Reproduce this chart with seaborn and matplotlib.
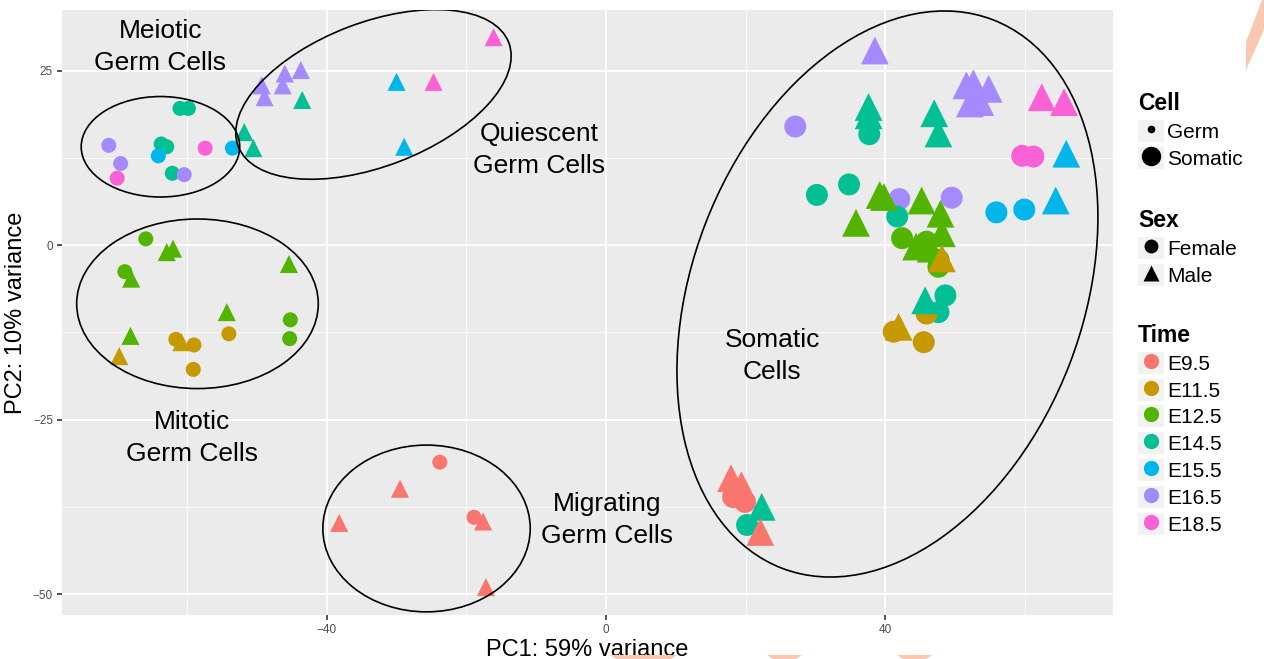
import matplotlib
matplotlib.use('Agg')
import matplotlib.pyplot as plt
import seaborn as sns
import pandas as pd
from matplotlib.patches import Ellipse, Polygon, Patch
from matplotlib.lines import Line2D

# time points and ggplot hue colours
times = ['E9.5', 'E11.5', 'E12.5', 'E14.5', 'E15.5', 'E16.5', 'E18.5']
colors = ['#F8766D', '#C49A00', '#53B400', '#00C094', '#00B6EB', '#A58AFF', '#FB61D7']

# meiotic germ cells
meio_pc1 = [-71.2, -69.5, -70.0, -61.0, -59.8, -63.7, -62.9, -64.1, -62.1, -60.4, -57.4, -53.5, -51.8, -50.5]
meio_pc2 = [14.3, 11.7, 9.6, 19.6, 19.6, 14.5, 14.1, 12.8, 10.3, 10.1, 13.9, 13.9, 16.2, 13.9]
meio_time = ['E16.5', 'E16.5', 'E18.5', 'E14.5', 'E14.5', 'E14.5', 'E14.5', 'E15.5', 'E14.5', 'E16.5',
             'E18.5', 'E15.5', 'E14.5', 'E14.5']
meio_sex = ['Female'] * 12 + ['Male'] * 2

# quiescent germ cells
quie_pc1 = [-49.3, -48.9, -46.0, -46.3, -43.7, -43.5, -30.0, -24.7, -16.1, -28.9]
quie_pc2 = [22.9, 21.2, 24.6, 22.9, 25.1, 20.8, 23.4, 23.4, 29.8, 14.1]
quie_time = ['E16.5'] * 5 + ['E14.5', 'E15.5', 'E18.5', 'E18.5', 'E15.5']
quie_sex = ['Male'] * 10

# mitotic germ cells
mito_pc1 = [-65.9, -62.9, -62.0, -68.9, -68.0, -45.4, -54.3, -45.2, -45.3, -68.1, -69.7, -61.6, -60.8, -59.0, -54.0, -59.1]
mito_pc2 = [0.9, -1.0, -0.5, -3.8, -4.8, -2.7, -9.6, -10.7, -13.4, -13.0, -15.9, -13.5, -13.9, -14.3, -12.7, -17.8]
mito_time = ['E12.5'] * 10 + ['E11.5'] * 6
mito_sex = ['Female', 'Male', 'Male', 'Female', 'Male', 'Male', 'Male', 'Female', 'Female', 'Male',
            'Male', 'Female', 'Male', 'Female', 'Female', 'Female']

# migrating germ cells
migr_pc1 = [-23.8, -29.5, -38.2, -18.9, -17.6, -17.2]
migr_pc2 = [-31.1, -34.9, -39.8, -39.0, -39.6, -49.0]
migr_time = ['E9.5'] * 6
migr_sex = ['Female', 'Male', 'Male', 'Female', 'Male', 'Male']

# somatic cells
soma_pc1 = [38.5, 27.1, 37.6, 37.6, 37.7, 47.0, 47.6, 51.6, 52.6, 54.8, 53.6, 52.1, 62.4, 65.6,
            59.6, 61.2, 65.9, 64.4, 55.9, 59.9, 30.2, 34.8, 42.0, 49.5, 39.2, 39.8, 45.2, 35.8,
            41.7, 47.9, 48.1, 42.4, 45.9, 44.4, 46.5, 47.6, 47.6, 48.1, 45.7, 48.6, 47.6, 45.9,
            41.2, 41.9, 45.5, 17.9, 19.4, 18.2, 19.9, 22.3, 20.2, 22.1]
soma_pc2 = [27.9, 17.0, 19.8, 18.6, 15.9, 18.9, 16.0, 22.9, 23.2, 22.4, 20.5, 20.3, 21.2, 20.5,
            12.8, 12.7, 13.1, 6.4, 4.7, 5.1, 7.2, 8.7, 6.6, 6.8, 7.2, 6.9, 6.4, 3.2,
            4.1, 4.5, 1.7, 1.0, 0.5, -0.2, -0.5, -2.1, -3.1, -1.9, -7.9, -7.2, -9.6, -9.8,
            -12.4, -11.7, -13.9, -33.4, -34.4, -36.1, -36.8, -37.5, -40.1, -41.1]
soma_time = ['E16.5', 'E16.5', 'E14.5', 'E14.5', 'E14.5', 'E14.5', 'E14.5', 'E16.5', 'E16.5', 'E16.5',
             'E16.5', 'E16.5', 'E18.5', 'E18.5', 'E18.5', 'E18.5', 'E15.5', 'E15.5', 'E15.5', 'E15.5',
             'E14.5', 'E14.5', 'E16.5', 'E16.5', 'E12.5', 'E12.5', 'E12.5', 'E12.5', 'E14.5', 'E12.5',
             'E12.5', 'E12.5', 'E12.5', 'E12.5', 'E12.5', 'E12.5', 'E12.5', 'E11.5', 'E14.5', 'E14.5',
             'E14.5', 'E11.5', 'E11.5', 'E11.5', 'E11.5', 'E9.5', 'E9.5', 'E9.5', 'E9.5', 'E14.5',
             'E14.5', 'E9.5']
soma_sex = ['Male', 'Female', 'Male', 'Male', 'Female', 'Male', 'Male', 'Male', 'Male', 'Male',
            'Male', 'Male', 'Male', 'Male', 'Female', 'Female', 'Male', 'Male', 'Female', 'Female',
            'Female', 'Female', 'Female', 'Female', 'Male', 'Male', 'Male', 'Male', 'Female', 'Male',
            'Male', 'Female', 'Female', 'Male', 'Male', 'Female', 'Female', 'Male', 'Male', 'Female',
            'Female', 'Female', 'Female', 'Male', 'Female', 'Male', 'Male', 'Female', 'Female', 'Male',
            'Female', 'Male']

# cluster outlines: centre x, centre y, width, height, angle
ellipses = [(-63.8, 14.1, 22.7, 14.4, 0), (-33.3, 21.6, 41.5, 20.6, 21),
            (-58.5, -8.4, 34.6, 24.3, 0), (-25.7, -40.6, 29.7, 23.9, 0),
            (40.3, -7.0, 84.2, 55.9, 69)]
labels = [(-63.8, 28.4, 'Meiotic\nGerm Cells'), (-9.6, 13.6, 'Quiescent\nGerm Cells'),
          (-59.3, -27.7, 'Mitotic\nGerm Cells'), (0.1, -39.4, 'Migrating\nGerm Cells'),
          (23.8, -15.9, 'Somatic\nCells')]

rows = []
for pc1, pc2, tm, sx, cell in [(meio_pc1, meio_pc2, meio_time, meio_sex, 'Germ'),
                                (quie_pc1, quie_pc2, quie_time, quie_sex, 'Germ'),
                                (mito_pc1, mito_pc2, mito_time, mito_sex, 'Germ'),
                                (migr_pc1, migr_pc2, migr_time, migr_sex, 'Germ'),
                                (soma_pc1, soma_pc2, soma_time, soma_sex, 'Somatic')]:
    for a, b, t, s in zip(pc1, pc2, tm, sx):
        rows.append({'PC1': a, 'PC2': b, 'Time': t, 'Sex': s, 'Cell': cell})
df = pd.DataFrame(rows)

sns.set_theme(style='darkgrid', rc={'axes.facecolor': '#EBEBEB', 'grid.color': 'white',
                                     'text.color': 'black', 'axes.labelcolor': 'black'})
plt.rcParams['font.family'] = ['Liberation Sans', 'DejaVu Sans']

fig = plt.figure(figsize=(12.64, 6.59), dpi=100)
ax = fig.add_axes([62 / 1264, 1 - 615 / 659, (1113 - 62) / 1264, (615 - 10) / 659])
palette = dict(zip(times, colors))

sns.scatterplot(data=df[df.Sex == 'Female'], x='PC1', y='PC2', hue='Time', palette=palette,
                size='Cell', sizes={'Germ': 117, 'Somatic': 250}, marker='o', linewidth=0,
                legend=False, ax=ax, zorder=3)
sns.scatterplot(data=df[df.Sex == 'Male'], x='PC1', y='PC2', hue='Time', palette=palette,
                size='Cell', sizes={'Germ': 169, 'Somatic': 400}, marker='^', linewidth=0,
                legend=False, ax=ax, zorder=3)

for cx, cy, w, h, ang in ellipses:
    ax.add_patch(Ellipse((cx, cy), w, h, angle=ang, fill=False, edgecolor='black', lw=1.2, zorder=4))
for x, y, t in labels:
    ax.text(x, y, t, ha='center', va='center', fontsize=19, linespacing=1.42, zorder=5)

ax.set_xlim(-77.9, 72.6)
ax.set_ylim(-53.0, 33.7)
ax.set_xticks([-40, 0, 40])
ax.set_xticks([-60, -20, 20, 60], minor=True)
ax.set_yticks([-50, -25, 0, 25])
ax.set_yticks([-37.5, -12.5, 12.5], minor=True)
ax.grid(which='major', color='white', lw=1.3)
ax.grid(which='minor', color='white', lw=0.6)
for sp in ax.spines.values():
    sp.set_visible(False)
ax.tick_params(which='major', length=3.5, width=1.2, color='#333333', labelsize=8.5,
               labelcolor='#4D4D4D', pad=3, bottom=True, left=True)
ax.tick_params(which='minor', length=0)
ax.set_xlabel('PC1: 59% variance', fontsize=17, labelpad=2)
ax.set_ylabel('PC2: 10% variance', fontsize=17, labelpad=4)

# legends
bg = Patch(facecolor='#F2F2F2', edgecolor='none')
def mk(marker, ms, color='black'):
    return (bg, Line2D([], [], ls='none', marker=marker, ms=ms, color=color, mec='none'))

legend_specs = [
    ('Cell', [mk('o', 5.5), mk('o', 14)], ['Germ', 'Somatic'], 92),
    ('Sex', [mk('o', 10), mk('^', 11.5)], ['Female', 'Male'], 209),
    ('Time', [mk('o', 11, c) for c in colors], times, 324),
]
for title, handles, labs, top in legend_specs:
    leg = fig.legend(handles, labs, title=title, loc='upper left',
                     bbox_to_anchor=(1138 / 1264, 1 - top / 659), frameon=False,
                     fontsize=15, title_fontproperties={'weight': 'bold', 'size': 16.5},
                     handlelength=1.25, handleheight=1.25, handletextpad=0.15,
                     labelspacing=0.23, borderpad=0, borderaxespad=0)
    leg._legend_box.align = 'left'

# salmon decorations at the image edges
deco = '#F9C8B2'
fig.patches.append(Polygon([(1246 / 1264, 1 - 70 / 659), (1246 / 1264, 1 - 42 / 659),
                            (1262 / 1264, 1), (1264 / 1264, 1), (1264 / 1264, 1 - 30 / 659)],
                           closed=True, transform=fig.transFigure, facecolor=deco, edgecolor='none'))
for x0, x1 in [(610, 677), (767, 802), (897, 932)]:
    fig.patches.append(Polygon([(x0 / 1264, 4 / 659), (x1 / 1264, 4 / 659),
                                ((x1 - 6) / 1264, 0), ((x0 + 6) / 1264, 0)],
                               closed=True, transform=fig.transFigure, facecolor=deco, edgecolor='none'))

fig.savefig('out.png', dpi=100)
